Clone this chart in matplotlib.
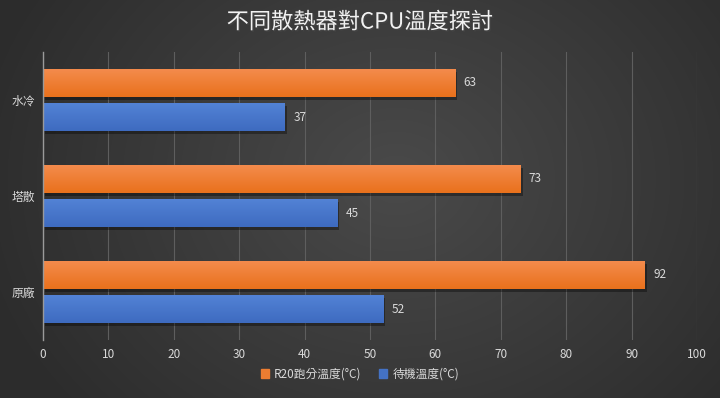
import numpy as np
import matplotlib
matplotlib.use("Agg")
import matplotlib.pyplot as plt
import matplotlib.patheffects as pe
from matplotlib.patches import Patch
import matplotlib.colors as mcolors

plt.rcParams['font.family'] = ['Noto Sans CJK TC', 'DejaVu Sans']

categories = ['水冷', '塔散', '原廠']
r20_temp = [63, 73, 92]
idle_temp = [37, 45, 52]
series_names = ['R20跑分溫度(°C)', '待機溫度(°C)']
xticks = [0, 10, 20, 30, 40, 50, 60, 70, 80, 90, 100]

fig = plt.figure(figsize=(7.2, 3.98), dpi=100)

# background radial gradient
bg = fig.add_axes([0, 0, 1, 1], zorder=-10)
h, w = 398, 720
yy, xx = np.mgrid[0:h, 0:w]
d = np.sqrt(((xx - w * 0.55) / (w * 0.6)) ** 2 + ((yy - h * 0.45) / (h * 0.9)) ** 2)
d = np.clip(d, 0, 1)
c0 = np.array([0x4a, 0x4a, 0x4a]) / 255
c1 = np.array([0x2c, 0x2c, 0x2c]) / 255
img = c0[None, None, :] * (1 - d[..., None]) + c1[None, None, :] * d[..., None]
bg.imshow(img, aspect='auto', extent=[0, 1, 0, 1])
bg.axis('off')

ax = fig.add_axes([43 / 720, 1 - 340 / 398, 654 / 720, 288 / 398])
ax.set_facecolor('none')

y = np.arange(len(categories))
bh = 0.295
off = 0.178
b1 = ax.barh(y - off, r20_temp, height=bh, color='#ED7D31', zorder=3)
b2 = ax.barh(y + off, idle_temp, height=bh, color='#4472C4', zorder=3)

def grad_fill(bars, top, bottom):
    top = np.array(mcolors.to_rgb(top))
    bottom = np.array(mcolors.to_rgb(bottom))
    t = np.linspace(0, 1, 50)[:, None]
    g = (top * (1 - t) + bottom * t)[:, None, :]
    for b in bars:
        b.set_path_effects([pe.SimplePatchShadow(offset=(1.5, -2), alpha=0.35, shadow_rgbFace='black'), pe.Normal()])
        x0, y0, wd, ht = b.get_x(), b.get_y(), b.get_width(), b.get_height()
        im = ax.imshow(g, extent=[x0, x0 + wd, y0 + ht, y0], aspect='auto', zorder=3.5,
                       interpolation='bilinear')
        im.set_clip_path(b)

grad_fill(b1, '#F48C4E', '#E9711C')
grad_fill(b2, '#5383D6', '#3E6BC0')

txtc = '#d9d9d9'
for bars, vals in ((b1, r20_temp), (b2, idle_temp)):
    for b, v in zip(bars, vals):
        ax.text(v + 1.3, b.get_y() + b.get_height() / 2, str(v), va='center', ha='left',
                color=txtc, fontsize=8.5)

ax.set_xlim(0, 100)
ax.set_ylim(2.5, -0.5)
ax.set_xticks(xticks)
ax.set_yticks(y)
ax.set_yticklabels(categories)
ax.tick_params(axis='both', length=0, colors=txtc, labelsize=8.5)
ax.tick_params(axis='x', pad=6)
ax.tick_params(axis='y', pad=6)
ax.grid(axis='x', color='#5e5e5e', linewidth=0.8, zorder=0)
for s in ['top', 'right', 'bottom']:
    ax.spines[s].set_visible(False)
ax.spines['left'].set_color('#9a9a9a')
ax.spines['left'].set_linewidth(1.0)
ax.spines['left'].set_zorder(5)

fig.text(0.5, 1 - 22 / 398, '不同散熱器對CPU溫度探討', ha='center', va='center',
         color='#f2f2f2', fontsize=16,
         path_effects=[pe.withSimplePatchShadow(offset=(1, -1), alpha=0.6)])

handles = [Patch(color='#ED7D31'), Patch(color='#4472C4')]
fig.legend(handles, series_names, loc='center', bbox_to_anchor=(0.5, 1 - 374 / 398), ncol=2,
           frameon=False, fontsize=8.5, labelcolor=txtc, handlelength=0.7, handleheight=0.7,
           handletextpad=0.4, columnspacing=1.5)

fig.savefig('out.png', dpi=100)
